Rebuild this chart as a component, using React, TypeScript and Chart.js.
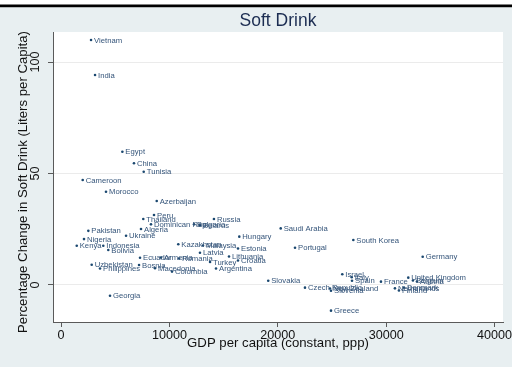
import { useEffect, useRef } from "react";
import { Chart, registerables } from "chart.js";

Chart.register(...registerables);

// Country labels, GDP per capita (constant, ppp) and % change in soft drink consumption
const countries = [
  "Vietnam", "India", "Egypt", "China", "Tunisia", "Cameroon", "Morocco", "Azerbaijan",
  "Peru", "Thailand", "Dominican Rep", "Algeria", "Bulgaria", "Belarus", "Russia",
  "Pakistan", "Nigeria", "Kenya", "Indonesia", "Bolivia", "Ukraine", "Kazakhstan",
  "Malaysia", "Estonia", "Hungary", "Latvia", "Lithuania", "Croatia", "Turkey",
  "Argentina", "Ecuador", "Armenia", "Romania", "Uzbekistan", "Philippines", "Bosnia",
  "Macedonia", "Colombia", "Georgia", "Slovakia", "Saudi Arabia", "Portugal",
  "South Korea", "Germany", "Israel", "Italy", "Spain", "France", "Czech Republic",
  "New Zealand", "Slovenia", "Greece", "Netherlands", "Denmark", "Finland",
  "United Kingdom", "Belgium", "Austria",
];

const gdpPerCapita = [
  2770, 3140, 5660, 6730, 7630, 2000, 4150, 8830,
  8580, 7590, 8300, 7380, 12270, 12820, 14110,
  2520, 2120, 1450, 3900, 4360, 6000, 10820,
  13100, 16330, 16450, 12820, 15500, 16330, 13750,
  14300, 7290, 9230, 10890, 2830, 3600, 7200,
  8670, 10240, 4520, 19120, 20270, 21590,
  26970, 33370, 25950, 26820, 26850, 29520, 22510,
  24820, 24910, 24910, 30810, 31640, 31180,
  32040, 32470, 32840,
];

const pctChange = [
  109.9, 94.2, 59.8, 54.6, 50.8, 47.1, 41.8, 37.7,
  31.4, 29.6, 27.2, 25.1, 27.2, 26.9, 29.6,
  24.3, 20.6, 17.6, 17.6, 15.7, 22.1, 18.3,
  17.7, 16.4, 21.7, 14.5, 12.8, 11.0, 10.3,
  7.4, 12.2, 12.3, 11.9, 9.1, 7.4, 9.0,
  7.5, 6.0, -4.8, 1.9, 25.4, 16.7,
  20.2, 12.7, 4.8, 3.5, 1.9, 1.5, -1.2,
  -1.6, -2.6, -11.5, -1.5, -1.1, -2.5,
  3.3, 2.0, 1.6,
];

const xTicks = [0, 10000, 20000, 30000, 40000];
const yTicks = [0, 50, 100];

const chartTitle = "Soft Drink";
const xTitle = "GDP per capita (constant, ppp)";
const yTitle = "Percentage Change in Soft Drink (Liters per Capita)";

const FONT = '"Liberation Sans", Arial, Helvetica, sans-serif';
const BG = "#e8eff1";
const MARK = "#1a476f";
const LABEL = "#35557a";
const AXIS = "#5a5a5a";

// Page frame: white strip, black rule, light background, white plot region
const framePlugin = {
  id: "frame",
  beforeDraw(chart: any) {
    const { ctx, width, height, chartArea } = chart;
    ctx.save();
    ctx.fillStyle = "#ffffff";
    ctx.fillRect(0, 0, width, height);
    ctx.fillStyle = "#000000";
    ctx.fillRect(0, 4.5, width, 3);
    ctx.fillStyle = BG;
    ctx.fillRect(0, 7.5, width, height - 7.5);
    ctx.fillStyle = "#ffffff";
    ctx.fillRect(
      chartArea.left,
      chartArea.top,
      chartArea.right - chartArea.left,
      chartArea.bottom - chartArea.top
    );
    ctx.restore();
  },
};

// Country name beside each marker
const pointLabelPlugin = {
  id: "pointLabels",
  afterDatasetsDraw(chart: any) {
    const { ctx } = chart;
    const meta = chart.getDatasetMeta(0);
    ctx.save();
    ctx.font = `7.7px ${FONT}`;
    ctx.fillStyle = LABEL;
    ctx.textAlign = "left";
    ctx.textBaseline = "middle";
    meta.data.forEach((pt: any, i: number) => {
      ctx.fillText(countries[i], pt.x + 3, pt.y + 0.5);
    });
    ctx.restore();
  },
};

// Title, tick labels and axis titles
const textPlugin = {
  id: "texts",
  afterDraw(chart: any) {
    const { ctx, chartArea, scales } = chart;
    const xs = scales.x;
    const ys = scales.y;
    ctx.save();

    ctx.fillStyle = "#1c2d52";
    ctx.font = `17.5px ${FONT}`;
    ctx.textAlign = "center";
    ctx.textBaseline = "alphabetic";
    ctx.fillText(chartTitle, (chartArea.left + chartArea.right) / 2, 26);

    ctx.fillStyle = "#111111";
    ctx.font = `12.6px ${FONT}`;
    xTicks.forEach((v) => {
      ctx.fillText(String(v), xs.getPixelForValue(v), 339);
    });

    yTicks.forEach((v) => {
      ctx.save();
      ctx.translate(39, ys.getPixelForValue(v));
      ctx.rotate(-Math.PI / 2);
      ctx.fillText(String(v), 0, 0);
      ctx.restore();
    });

    ctx.font = `13.2px ${FONT}`;
    ctx.fillText(xTitle, (chartArea.left + chartArea.right) / 2, 346.5);

    ctx.save();
    ctx.translate(27, 182);
    ctx.rotate(-Math.PI / 2);
    ctx.fillText(yTitle, 0, 0);
    ctx.restore();

    ctx.restore();
  },
};

export default function App() {
  const canvasRef = useRef<HTMLCanvasElement | null>(null);

  useEffect(() => {
    const canvas = canvasRef.current;
    if (!canvas) return;

    const points = gdpPerCapita.map((x, i) => ({ x, y: pctChange[i] }));

    const chart = new Chart(canvas, {
      type: "scatter",
      data: {
        datasets: [
          {
            data: points,
            pointRadius: 1.3,
            pointHoverRadius: 1.3,
            pointBackgroundColor: MARK,
            pointBorderColor: MARK,
            pointBorderWidth: 0,
          },
        ],
      },
      options: {
        animation: false,
        responsive: false,
        devicePixelRatio: 1,
        events: [],
        layout: { padding: { left: 0, right: 9, top: 32, bottom: 0 } },
        plugins: {
          legend: { display: false },
          title: { display: false },
          tooltip: { enabled: false },
        },
        scales: {
          x: {
            type: "linear",
            min: -740,
            max: 40780,
            afterBuildTicks: (scale: any) => {
              scale.ticks = xTicks.map((value) => ({ value }));
            },
            afterFit: (scale: any) => {
              scale.height = 45;
            },
            ticks: { display: false },
            grid: {
              display: true,
              drawOnChartArea: false,
              drawTicks: true,
              tickLength: 5,
              tickColor: AXIS,
              lineWidth: 1,
            },
            border: { display: true, color: AXIS, width: 1 },
          },
          y: {
            type: "linear",
            min: -16.6,
            max: 113.5,
            afterBuildTicks: (scale: any) => {
              scale.ticks = yTicks.map((value) => ({ value }));
            },
            afterFit: (scale: any) => {
              scale.width = 53;
            },
            ticks: { display: false },
            grid: {
              display: true,
              drawOnChartArea: true,
              drawTicks: true,
              tickLength: 5,
              color: "#ebebeb",
              tickColor: AXIS,
              lineWidth: 1,
            },
            border: { display: true, color: AXIS, width: 1 },
          },
        },
      },
      plugins: [framePlugin, pointLabelPlugin, textPlugin],
    });

    return () => chart.destroy();
  }, []);

  return (
    <div style={{ position: "fixed", left: 0, top: 0, width: 512, height: 367 }}>
      <canvas ref={canvasRef} width={512} height={367} style={{ display: "block" }} />
    </div>
  );
}
